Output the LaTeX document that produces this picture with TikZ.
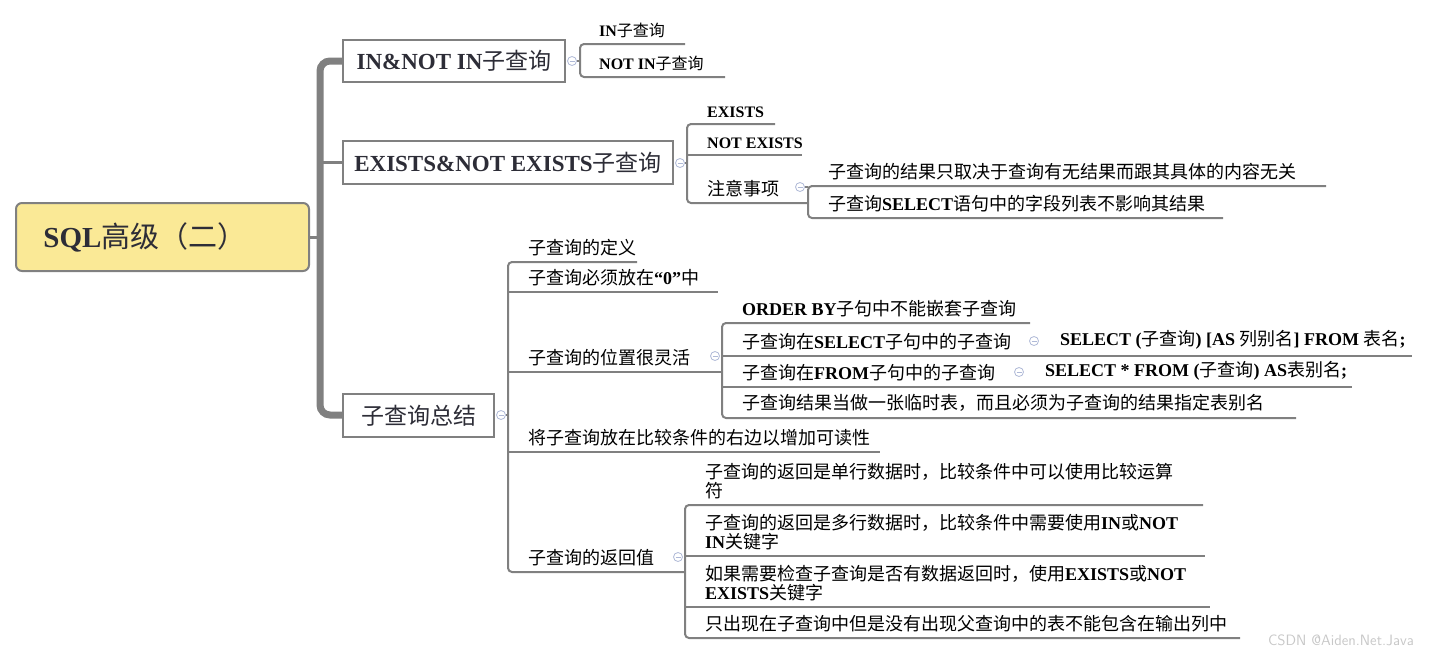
\documentclass[tikz,border=0pt]{standalone}
\usepackage{fontspec}
\setmainfont{Liberation Serif}
\newfontfamily\cjk{Noto Sans CJK SC}
\newcommand\zh[1]{{\cjk\mdseries #1}}
\definecolor{lg}{RGB}{128,128,128}
\definecolor{rootfill}{RGB}{250,233,150}
\definecolor{circ}{RGB}{175,185,215}
\tikzset{
  ln/.style={draw=lg,line width=2pt},
  txt/.style={anchor=south west,inner sep=1pt,font=\fontsize{18}{21}\selectfont\bfseries,text=black},
  sm/.style={txt,font=\fontsize{16}{19}\selectfont\bfseries},
  ml/.style={txt,align=left,font=\fontsize{18}{19}\selectfont\bfseries},
  lvtwo/.style={draw=lg,line width=2pt,fill=white,inner sep=0pt,font=\fontsize{23}{26}\selectfont\bfseries,text={rgb,255:red,45;green,45;blue,55}},
  col/.style={draw=circ,line width=0.8pt,fill=white,circle,minimum size=9pt,inner sep=0pt},
}
\newcommand\itm[6][txt]{% style, name, x, yline, xend, text
  \node[#1] (#2) at (#3+19,#4-5) {#6};
  \draw[ln] (#3,#4) -- (#5,#4);}
\newcommand\clp[3]{% name,x,y
  \node[col] (#1) at (#2,#3) {}; \draw[circ,line width=0.8pt] ($(#1.center)+(-2.5,0)$) -- ($(#1.center)+(2.5,0)$);}
\usetikzlibrary{calc}
\begin{document}
\begin{tikzpicture}[x=1pt,y=-1pt]
\useasboundingbox (0,0) rectangle (1429,656);
% root
\node[draw=lg,line width=2pt,fill=rootfill,rounded corners=6pt,minimum width=293pt,minimum height=68pt,font=\fontsize{29}{32}\selectfont\bfseries,text={rgb,255:red,45;green,45;blue,55}] (root) at (162.5,237) {\hspace*{-35pt}SQL\zh{高级（二）}};
% main trunk
\draw[lg,line width=7pt,rounded corners=10pt] (343,61) -- (320,61) -- (320,415) -- (343,415);
\draw[lg,line width=3pt] (root.east) -- (320,237);
\draw[lg,line width=3pt] (320,162) -- (343,162);
% level 2 boxes
\node[lvtwo,minimum width=222pt,minimum height=42pt] (b1) at (454,61) {IN\&NOT IN\zh{子查询}};
\node[lvtwo,minimum width=330pt,minimum height=43pt] (b2) at (508,162.5) {EXISTS\&NOT EXISTS\zh{子查询}};
\node[lvtwo,minimum width=151pt,minimum height=43pt] (b3) at (418.5,415.5) {\zh{子查询总结}};
% b1 children
\clp{c1}{572}{61}
\draw[ln] (c1.east) -- (580,61);
\draw[ln,rounded corners=4pt] (685,44) -- (580,44) -- (580,77) -- (725,77);
\node[sm] (n11) at (598,39) {IN\zh{子查询}};
\node[sm] (n12) at (598,72) {NOT IN\zh{子查询}};
% b2 children
\clp{c2}{680}{163}
\draw[ln] (c2.east) -- (687,163);
\draw[ln,rounded corners=4pt] (775,124) -- (687,124) -- (687,203) -- (808,203);
\node[sm] (n21) at (706,119) {EXISTS};
\itm[sm]{n22}{687}{155}{802}{NOT EXISTS}
\node[txt] (n23) at (706,198) {\zh{注意事项}};
\clp{c3}{800}{187}
\draw[ln] (c3.east) -- (808,187);
\draw[ln,rounded corners=4pt] (1326,186) -- (808,186) -- (808,218) -- (1223,218);
\node[txt] (n231) at (827,181) {\zh{子查询的结果只取决于查询有无结果而跟其具体的内容无关}};
\node[txt] (n232) at (827,213) {\zh{子查询}SELECT\zh{语句中的字段列表不影响其结果}};
% b3 children
\clp{c4}{501}{415}
\draw[ln] (c4.east) -- (508,415);
\draw[ln,rounded corners=4pt] (637,262) -- (508,262) -- (508,572) -- (685,572);
\node[txt] (n31) at (527,257) {\zh{子查询的定义}};
\itm{n32}{508}{292}{718}{\zh{子查询必须放在}“0”\zh{中}}
\itm{n33}{508}{372}{722}{\zh{子查询的位置很灵活}}
\itm{n34}{508}{452}{880}{\zh{将子查询放在比较条件的右边以增加可读性}}
\node[txt] (n35) at (527,567) {\zh{子查询的返回值}};
% position children
\clp{c5}{715}{356}
\draw[ln,rounded corners=4pt] (1030,323) -- (722,323) -- (722,418) -- (1296,418);
\node[txt] (n331) at (741,318) {ORDER BY\zh{子句中不能嵌套子查询}};
\itm{n332}{722}{356}{1412}{\zh{子查询在}SELECT\zh{子句中的子查询}}
\itm{n333}{722}{387}{1352}{\zh{子查询在}FROM\zh{子句中的子查询}}
\node[txt] (n334) at (741,413) {\zh{子查询结果当做一张临时表，而且必须为子查询的结果指定表别名}};
\clp{c6}{1034}{341}
\node[txt] (n3321) at (1059,351) {SELECT (\zh{子查询}) [AS \zh{列别名}] FROM \zh{表名};};
\clp{c7}{1019}{372}
\node[txt] (n3331) at (1044,382) {SELECT * FROM (\zh{子查询}) AS\zh{表别名};};
% return value children
\clp{c8}{678}{557}
\draw[ln,rounded corners=4pt] (1203,505) -- (685,505) -- (685,638) -- (1240,638);
\node[ml] (n351) at (704,500) {\zh{子查询的返回是单行数据时，比较条件中可以使用比较运算}\\\zh{符}};
\itm[ml]{n352}{685}{556}{1205}{\zh{子查询的返回是多行数据时，比较条件中需要使用}IN\zh{或}NOT\\IN\zh{关键字}}
\itm[ml]{n353}{685}{607}{1210}{\zh{如果需要检查子查询是否有数据返回时，使用}EXISTS\zh{或}NOT\\EXISTS\zh{关键字}}
\node[txt] (n354) at (704,633) {\zh{只出现在子查询中但是没有出现父查询中的表不能包含在输出列中}};
% watermark
\node[anchor=east,inner sep=0pt,font=\fontsize{15}{17}\selectfont\sffamily,text={rgb,255:red,200;green,200;blue,200}] (wm) at (1414,640) {CSDN @Aiden.Net.Java};
\end{tikzpicture}
\end{document}
